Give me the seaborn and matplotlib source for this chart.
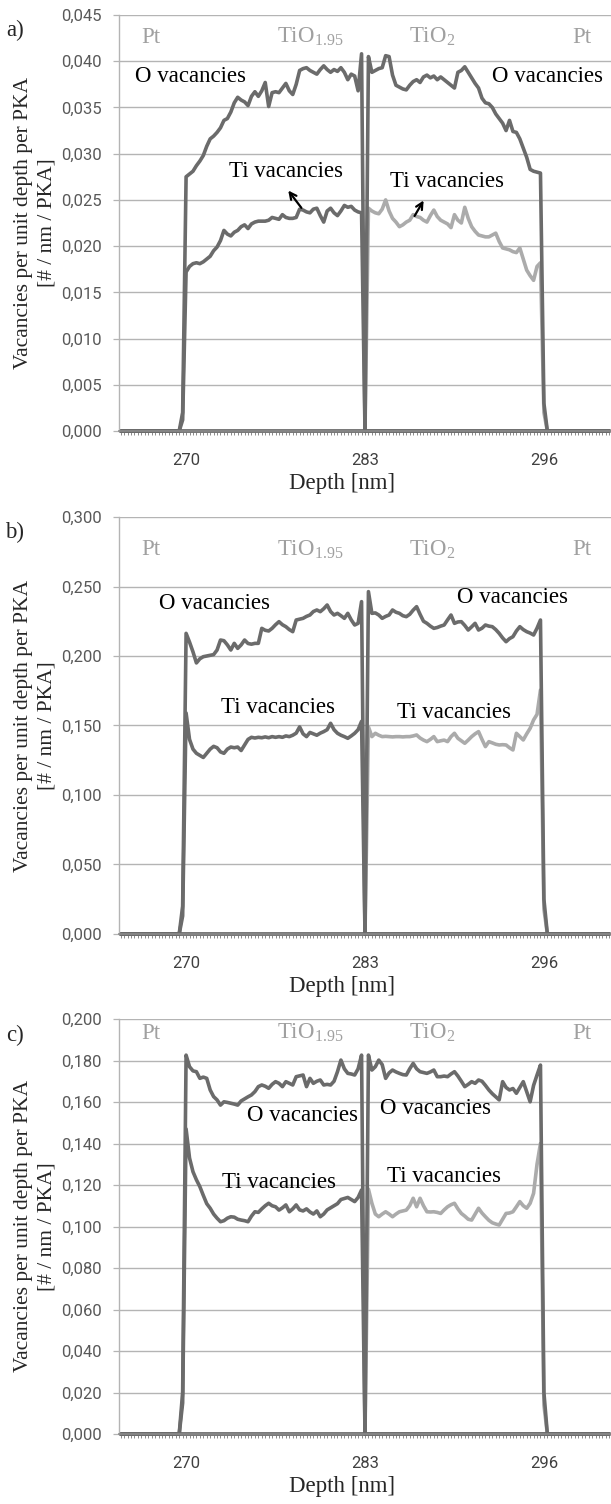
import matplotlib
matplotlib.use("Agg")
import matplotlib.pyplot as plt
import numpy as np
import seaborn as sns

# depth categories [nm] (0.25 nm bins)
DEPTH = np.round(np.arange(265.25, 300.76, 0.25), 2)
TIO195_START = 269.75   # first bin of the TiO1.95 series
TIO2_START = 283.25     # first bin of the TiO2 series

# ---- panel a) ----
A_O_195 = [0.0020, 0.0275, 0.0278, 0.0281, 0.0287, 0.0292, 0.0298, 0.0308, 0.0316, 0.0319, 0.0323,
           0.0328, 0.0336, 0.0338, 0.0345, 0.0355, 0.0361, 0.0358, 0.0356, 0.0352, 0.0362,
           0.0367, 0.0362, 0.0368, 0.0377, 0.0351, 0.0366, 0.0367, 0.0366, 0.0371, 0.0376,
           0.0368, 0.0364, 0.0375, 0.0390, 0.0392, 0.0393, 0.0390, 0.0388, 0.0386, 0.0391,
           0.0395, 0.0391, 0.0388, 0.0391, 0.0389, 0.0393, 0.0388, 0.0380, 0.0386, 0.0384,
           0.0368, 0.0408]
A_TI_195 = [0.0012, 0.0172, 0.0178, 0.0181, 0.0182, 0.0181, 0.0183, 0.0186, 0.0189, 0.0195, 0.0199,
            0.0206, 0.0217, 0.0213, 0.0211, 0.0215, 0.0217, 0.0221, 0.0223, 0.0219, 0.0224,
            0.0226, 0.0227, 0.0227, 0.0227, 0.0228, 0.0231, 0.0230, 0.0229, 0.0234, 0.0231,
            0.0230, 0.0230, 0.0231, 0.0240, 0.0239, 0.0237, 0.0236, 0.0240, 0.0241, 0.0233,
            0.0226, 0.0238, 0.0241, 0.0236, 0.0233, 0.0238, 0.0244, 0.0242, 0.0243, 0.0239,
            0.0237, 0.0236]
A_O_2 = [0.0405, 0.0388, 0.0390, 0.0392, 0.0393, 0.0406, 0.0405, 0.0385, 0.0374, 0.0372, 0.0370,
         0.0369, 0.0374, 0.0378, 0.0380, 0.0377, 0.0383, 0.0385, 0.0382, 0.0384, 0.0380,
         0.0383, 0.0380, 0.0377, 0.0374, 0.0371, 0.0388, 0.0390, 0.0394, 0.0388, 0.0382,
         0.0376, 0.0371, 0.0360, 0.0355, 0.0354, 0.0350, 0.0343, 0.0338, 0.0333, 0.0325,
         0.0336, 0.0324, 0.0323, 0.0316, 0.0306, 0.0296, 0.0283, 0.0281, 0.0280, 0.0279,
         0.0030]
A_TI_2 = [0.0241, 0.0238, 0.0236, 0.0235, 0.0240, 0.0250, 0.0238, 0.0230, 0.0226, 0.0221, 0.0223,
          0.0226, 0.0228, 0.0234, 0.0232, 0.0231, 0.0228, 0.0226, 0.0233, 0.0239, 0.0232,
          0.0228, 0.0226, 0.0224, 0.0220, 0.0234, 0.0228, 0.0225, 0.0242, 0.0230, 0.0221,
          0.0216, 0.0212, 0.0211, 0.0210, 0.0210, 0.0212, 0.0214, 0.0205, 0.0198, 0.0197,
          0.0196, 0.0194, 0.0193, 0.0198, 0.0186, 0.0174, 0.0168, 0.0163, 0.0178, 0.0182,
          0.0020]

# ---- panel b) ----
B_O_195 = [0.020, 0.2163, 0.2100, 0.2030, 0.1950, 0.1980, 0.1995, 0.2000, 0.2005, 0.2010, 0.2043,
           0.2115, 0.2110, 0.2080, 0.2043, 0.2091, 0.2055, 0.2080, 0.2115, 0.2090, 0.2085,
           0.2091, 0.2091, 0.2199, 0.2185, 0.2180, 0.2199, 0.2225, 0.2247, 0.2225, 0.2211,
           0.2190, 0.2175, 0.2259, 0.2265, 0.2271, 0.2285, 0.2295, 0.2320, 0.2331, 0.2319,
           0.2340, 0.2367, 0.2320, 0.2295, 0.2307, 0.2290, 0.2271, 0.2307, 0.2260, 0.2223,
           0.2235, 0.2391]
B_TI_195 = [0.013, 0.1590, 0.1400, 0.1330, 0.1300, 0.1285, 0.1270, 0.1300, 0.1330, 0.1350, 0.1340,
            0.1310, 0.1300, 0.1330, 0.1345, 0.1340, 0.1345, 0.1320, 0.1360, 0.1400, 0.1415,
            0.1410, 0.1415, 0.1412, 0.1418, 0.1412, 0.1420, 0.1415, 0.1420, 0.1415, 0.1425,
            0.1420, 0.1430, 0.1445, 0.1490, 0.1440, 0.1420, 0.1450, 0.1440, 0.1430, 0.1445,
            0.1456, 0.1470, 0.1516, 0.1470, 0.1444, 0.1430, 0.1420, 0.1408, 0.1425, 0.1444,
            0.1470, 0.1530]
B_O_2 = [0.2463, 0.2307, 0.2310, 0.2295, 0.2271, 0.2285, 0.2295, 0.2331, 0.2315, 0.2307, 0.2290,
         0.2283, 0.2300, 0.2330, 0.2355, 0.2300, 0.2250, 0.2235, 0.2215, 0.2199, 0.2205,
         0.2215, 0.2223, 0.2260, 0.2295, 0.2235, 0.2245, 0.2247, 0.2220, 0.2187, 0.2210,
         0.2235, 0.2187, 0.2200, 0.2223, 0.2215, 0.2211, 0.2190, 0.2163, 0.2130, 0.2103,
         0.2125, 0.2139, 0.2180, 0.2211, 0.2190, 0.2175, 0.2165, 0.2151, 0.2200, 0.2259,
         0.025]
B_TI_2 = [0.1490, 0.1420, 0.1444, 0.1430, 0.1420, 0.1422, 0.1420, 0.1418, 0.1420, 0.1420, 0.1418,
          0.1420, 0.1420, 0.1425, 0.1432, 0.1410, 0.1395, 0.1384, 0.1400, 0.1420, 0.1384,
          0.1390, 0.1395, 0.1384, 0.1420, 0.1444, 0.1408, 0.1390, 0.1372, 0.1395, 0.1420,
          0.1440, 0.1456, 0.1400, 0.1348, 0.1384, 0.1375, 0.1365, 0.1360, 0.1362, 0.1360,
          0.1340, 0.1324, 0.1444, 0.1420, 0.1396, 0.1440, 0.1480, 0.1540, 0.1580, 0.1755,
          0.018]

# ---- panel c) ----
C_O_195 = [0.020, 0.1826, 0.1770, 0.1750, 0.1746, 0.1714, 0.1720, 0.1714, 0.1658, 0.1626, 0.1610,
           0.1585, 0.1601, 0.1598, 0.1594, 0.1590, 0.1585, 0.1605, 0.1615, 0.1625, 0.1634,
           0.1650, 0.1674, 0.1682, 0.1676, 0.1666, 0.1685, 0.1698, 0.1690, 0.1674, 0.1698,
           0.1690, 0.1682, 0.1722, 0.1726, 0.1730, 0.1674, 0.1714, 0.1690, 0.1700, 0.1706,
           0.1682, 0.1685, 0.1682, 0.1700, 0.1746, 0.1802, 0.1760, 0.1738, 0.1735, 0.1730,
           0.1760, 0.1826]
C_TI_195 = [0.015, 0.1470, 0.1330, 0.1264, 0.1225, 0.1192, 0.1150, 0.1110, 0.1088, 0.1060, 0.1040,
            0.1023, 0.1028, 0.1040, 0.1047, 0.1045, 0.1035, 0.1031, 0.1028, 0.1023, 0.1050,
            0.1071, 0.1068, 0.1085, 0.1100, 0.1112, 0.1100, 0.1095, 0.1079, 0.1090, 0.1104,
            0.1071, 0.1085, 0.1104, 0.1080, 0.1075, 0.1085, 0.1070, 0.1060, 0.1075, 0.1047,
            0.1060, 0.1080, 0.1090, 0.1100, 0.1110, 0.1130, 0.1135, 0.1140, 0.1130, 0.1120,
            0.1140, 0.1176]
C_O_2 = [0.1826, 0.1754, 0.1770, 0.1802, 0.1780, 0.1714, 0.1740, 0.1754, 0.1745, 0.1738, 0.1732,
         0.1730, 0.1760, 0.1786, 0.1760, 0.1746, 0.1742, 0.1738, 0.1745, 0.1754, 0.1722,
         0.1722, 0.1725, 0.1722, 0.1735, 0.1746, 0.1725, 0.1700, 0.1674, 0.1685, 0.1698,
         0.1690, 0.1706, 0.1700, 0.1680, 0.1658, 0.1640, 0.1625, 0.1610, 0.1698, 0.1670,
         0.1658, 0.1665, 0.1642, 0.1670, 0.1698, 0.1650, 0.1601, 0.1680, 0.1730, 0.1778,
         0.020]
C_TI_2 = [0.1180, 0.1112, 0.1060, 0.1047, 0.1060, 0.1071, 0.1060, 0.1047, 0.1060, 0.1071, 0.1075,
          0.1079, 0.1100, 0.1136, 0.1095, 0.1136, 0.1100, 0.1071, 0.1070, 0.1071, 0.1068,
          0.1063, 0.1080, 0.1095, 0.1105, 0.1112, 0.1085, 0.1063, 0.1050, 0.1035, 0.1031,
          0.1060, 0.1088, 0.1065, 0.1047, 0.1030, 0.1018, 0.1012, 0.1007, 0.1035, 0.1063,
          0.1065, 0.1071, 0.1095, 0.1120, 0.1100, 0.1088, 0.1112, 0.1160, 0.1300, 0.1400,
          0.014]

PANEL_LABELS = ["a)", "b)", "c)"]
Y_MAX = [0.045, 0.300, 0.200]
Y_STEP = [0.005, 0.050, 0.020]
X_LABELS = [270, 283, 296]
LAYERS = ["Pt", "TiO$_{\\mathrm{1.95}}$", "TiO$_{\\mathrm{2}}$", "Pt"]

DARK = "#6b6b6b"
LIGHT = "#ababab"
GRID = "#b4b4b4"
LAYER_COLOR = "#a0a0a0"
TICK_COLOR = "#595959"

sns.set_theme(style="white")
plt.rcParams["font.family"] = ["Liberation Serif", "DejaVu Serif"]
plt.rcParams["mathtext.fontset"] = "custom"
plt.rcParams["mathtext.rm"] = "Liberation Serif"
plt.rcParams["mathtext.it"] = "Liberation Serif:italic"


def on_grid(values, start):
    out = np.zeros(len(DEPTH))
    i0 = int(round((start - DEPTH[0]) / 0.25))
    out[i0:i0 + len(values)] = values
    return out


W, H = 611, 1504
fig = plt.figure(figsize=(W / 100, H / 100), dpi=100)
# axes boxes in pixels: (top, bottom)
boxes = [(15, 431), (517, 934), (1019, 1434)]
series = [
    (A_O_195, A_TI_195, A_O_2, A_TI_2),
    (B_O_195, B_TI_195, B_O_2, B_TI_2),
    (C_O_195, C_TI_195, C_O_2, C_TI_2),
]
layer_y = [0.947, 0.921, 0.966]
label_y = [30, 532, 1035]
# text positions (depth, value) for O / Ti labels, left and right
text_pos = [
    [(270.32, 0.0383), (296.27, 0.0383), (277.26, 0.0281), (288.93, 0.0270)],
    [(272.07, 0.2381), (293.72, 0.2424), (276.68, 0.1626), (289.47, 0.1590)],
    [(278.46, 0.1537), (288.09, 0.1571), (276.75, 0.1210), (288.74, 0.1239)],
]

left, right = 119, 611
for k, ((top, bot), (o195, ti195, o2, ti2)) in enumerate(zip(boxes, series)):
    ax = fig.add_axes([left / W, 1 - bot / H, (right - left) / W, (bot - top) / H])
    ax.set_facecolor("white")

    sns.lineplot(x=DEPTH, y=on_grid(ti2, TIO2_START), ax=ax, color=LIGHT, lw=2.6, clip_on=False)
    sns.lineplot(x=DEPTH, y=on_grid(ti195, TIO195_START), ax=ax, color=DARK, lw=2.6, clip_on=False)
    sns.lineplot(x=DEPTH, y=on_grid(o2, TIO2_START), ax=ax, color=DARK, lw=2.6, clip_on=False)
    sns.lineplot(x=DEPTH, y=on_grid(o195, TIO195_START), ax=ax, color=DARK, lw=2.6, clip_on=False)

    ax.set_xlim(DEPTH[0] - 0.125, DEPTH[-1] + 0.125)
    ax.set_ylim(0, Y_MAX[k])
    yt = np.round(np.arange(0, Y_MAX[k] + Y_STEP[k] / 2, Y_STEP[k]), 3)
    ax.set_yticks(yt)
    ax.set_yticklabels([f"{v:.3f}".replace(".", ",") for v in yt],
                       fontfamily="Roboto", fontsize=12, color=TICK_COLOR)
    ax.set_xticks(X_LABELS)
    ax.set_xticklabels([str(v) for v in X_LABELS], fontfamily="Roboto", fontsize=12,
                       color="#404040")
    ax.set_xticks(DEPTH, minor=True)
    ax.tick_params(axis="y", which="major", length=4.5, width=0.9, color=GRID,
                   pad=8, left=True)
    ax.tick_params(axis="x", which="both", length=3, width=0.7, color="#8a8a8a",
                   pad=13, bottom=True)
    ax.set_xlabel("")
    ax.set_ylabel("")
    ax.grid(axis="y", color=GRID, lw=1.0)
    ax.set_axisbelow(True)
    for s in ("top", "right"):
        ax.spines[s].set_visible(False)
    ax.spines["left"].set_color(GRID)
    ax.spines["left"].set_linewidth(1.0)
    ax.spines["bottom"].set_color("#8a8a8a")

    # layer names
    for xf, name in zip([0.065, 0.388, 0.636, 0.941], LAYERS):
        ax.text(xf, layer_y[k], name, transform=ax.transAxes, ha="center", va="center",
                fontsize=16.5, color=LAYER_COLOR)

    (o_l, o_r, t_l, t_r) = text_pos[k]
    for (x, y), txt in zip([o_l, o_r, t_l, t_r],
                           ["O vacancies", "O vacancies", "Ti vacancies", "Ti vacancies"]):
        ax.text(x, y, txt, ha="center", va="center", fontsize=16.5, color="black")

    if k == 0:
        ax.annotate("", xy=(277.3, 0.02625), xytext=(278.5, 0.0239),
                    arrowprops=dict(arrowstyle="->", color="black", lw=1.6))
        ax.annotate("", xy=(287.36, 0.0252), xytext=(286.5, 0.0230),
                    arrowprops=dict(arrowstyle="->", color="black", lw=1.6))

    ax.text(-0.170, 0.5, "Vacancies per unit depth per PKA\n[# / nm / PKA]",
            transform=ax.transAxes, rotation=90, ha="center", va="center",
            multialignment="center", fontsize=15.5, linespacing=1.3)
    ax.annotate("Depth [nm]", xy=(0.453, 0), xycoords="axes fraction",
                xytext=(0, -37.5), textcoords="offset points", ha="center", va="center",
                fontsize=16.5)

    fig.text(15 / W, 1 - label_y[k] / H, PANEL_LABELS[k], ha="center", va="center",
             fontsize=16.5)

fig.savefig("out.png", dpi=100, facecolor="white")
